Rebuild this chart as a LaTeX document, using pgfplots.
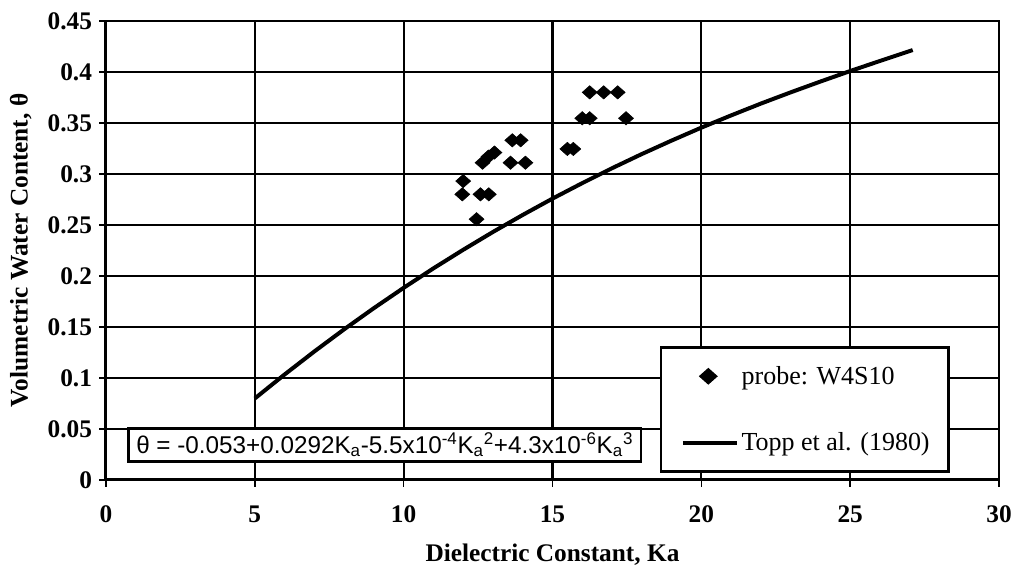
\documentclass[border=0pt]{standalone}
\usepackage{pgfplots}
\pgfplotsset{compat=1.18}
\usepackage{fontspec}
\setmainfont{Liberation Serif}
\newfontfamily\eqfont{Liberation Sans}
\begin{document}
\begin{tikzpicture}
\begin{axis}[
  scale only axis, width=670pt, height=344.25pt,
  xmin=0, xmax=30, ymin=0, ymax=0.45,
  xtick={0,5,10,15,20,25,30},
  xticklabels={0,5,10,15,20,25,30},
  ytick={0,0.05,0.1,0.15,0.2,0.25,0.3,0.35,0.4,0.45},
  yticklabels={0,0.05,0.1,0.15,0.2,0.25,0.3,0.35,0.4,0.45},
  tick label style={font=\fontsize{19}{22}\selectfont\bfseries},
  xticklabel style={yshift=-11pt},
  yticklabel style={xshift=-2pt},
  tick align=outside, xtick pos=left, ytick pos=left,
  major tick length=5pt,
  every tick/.style={black, line width=1.2pt},
  grid=major, grid style={black, line width=1.6pt},
  axis line style={black, line width=2.2pt},
  xlabel={Dielectric Constant, Ka},
  ylabel={Volumetric Water Content, θ},
  label style={font=\fontsize{19}{22}\selectfont\bfseries},
  xlabel style={at={(axis description cs:0.5,0)}, anchor=center, yshift=-56pt},
  ylabel style={at={(axis description cs:-0.0955,0.5)}, anchor=center},
  legend style={at={(rel axis cs:0.620,0.015)}, anchor=south west,
    draw=black, line width=2pt, fill=white,
    font=\fontsize{19.5}{22}\selectfont,
    nodes={inner sep=2pt},
    inner xsep=12pt, inner ysep=12pt, row sep=31pt,
    legend cell align=left},
]
\addplot[only marks, mark=diamond*, mark size=5pt, black,
  mark options={xscale=1.5},
  legend image code/.code={\path (-3pt,0pt) (40.5pt,0pt); \draw[only marks, mark=diamond*, mark size=5pt, mark options={xscale=1.5}, black] plot coordinates {(19pt,0pt)};}]
  coordinates {
  (12.0,0.293) (11.97,0.28) (12.58,0.28) (12.86,0.28) (12.45,0.2556)
  (12.65,0.311) (12.85,0.317) (13.05,0.321)
  (13.65,0.333) (13.93,0.333) (13.59,0.311) (14.09,0.311)
  (15.5,0.3245) (15.7,0.3245)
  (16.0,0.3546) (16.25,0.3546) (17.47,0.3546)
  (16.25,0.38) (16.72,0.38) (17.19,0.38)
  };
\addlegendentry{probe: W4S10}
\addplot[black, line width=3pt,
  legend image code/.code={\path (-3pt,0pt); \draw[black, line width=3pt] (0pt,0pt) -- (40.5pt,0pt);}]
  coordinates {
  (5,0.0798) (6,0.1033) (7,0.1259) (8,0.1476) (9,0.1684) (10,0.1883)
  (11,0.2074) (12,0.2256) (13,0.2431) (14,0.2598) (15,0.2758) (16,0.2910)
  (17,0.3056) (18,0.3195) (19,0.3327) (20,0.3454) (21,0.3574) (22,0.3690)
  (23,0.3800) (24,0.3906) (25,0.4009) (26,0.4108) (27,0.4205) (27.1,0.4215)
  };
\addlegendentry{Topp et al. (1980)}
\node[draw=black, line width=2pt, fill=white, anchor=south west,
  font=\eqfont\fontsize{18.2}{21}\selectfont, inner xsep=6pt, inner ysep=3.5pt]
  at (rel axis cs:0.0235,0.037)
  {θ = -0.053+0.0292K\textsubscript{a}-5.5x10\textsuperscript{-4}K\textsubscript{a}\textsuperscript{2}+4.3x10\textsuperscript{-6}K\textsubscript{a}\textsuperscript{3}};
\end{axis}
\pgfresetboundingbox
\path (current axis.south west) ++(-79.5pt,-70.5pt) (current axis.north east) ++(11.25pt,15.75pt);
\end{tikzpicture}
\end{document}
